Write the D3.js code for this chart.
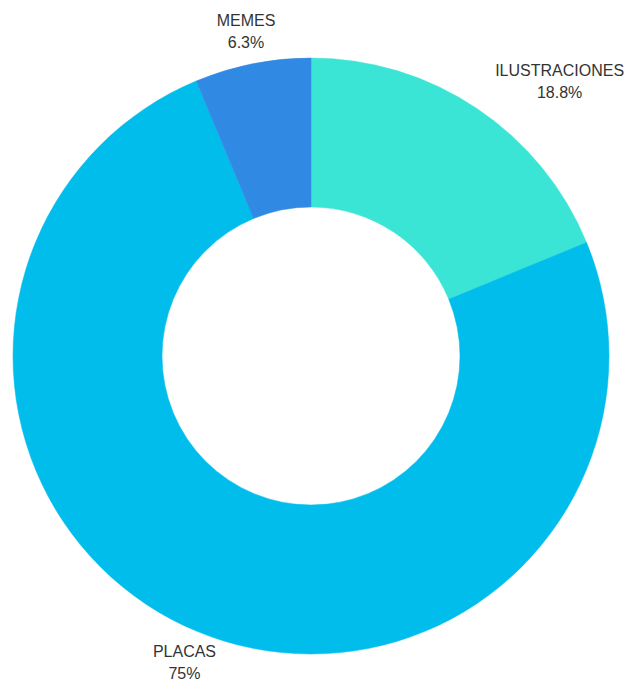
<!DOCTYPE html>
<html>
<head>
<meta charset="utf-8">
<script src="https://cdn.jsdelivr.net/npm/d3@7"></script>
<style>
  body { margin: 0; background: #fff; }
  svg { display: block; }
</style>
</head>
<body>
<div id="chart"></div>
<script>
const categories = ["ILUSTRACIONES", "PLACAS", "MEMES"]
const values = [18.8, 75, 6.3]
const valueLabels = ["18.8%", "75%", "6.3%"]
const colors = ["#3ae5d5", "#00bdec", "#308ae3"]

const width = 626, height = 681
const cx = 311, cy = 356
const outerR = 298, innerR = 149, labelR = 331

const svg = d3.select("#chart").append("svg")
  .attr("width", width)
  .attr("height", height)

const g = svg.append("g").attr("transform", `translate(${cx},${cy})`)

const data = categories.map((c, i) => ({ name: c, value: values[i], label: valueLabels[i], color: colors[i] }))

const pie = d3.pie().value(d => d.value).sort(null)
const arc = d3.arc().innerRadius(innerR).outerRadius(outerR)
const arcs = pie(data)

g.selectAll("path")
  .data(arcs)
  .join("path")
  .attr("d", arc)
  .style("fill", d => d.data.color)
  .style("stroke", d => d.data.color)
  .style("stroke-width", 0.5)

// labels outside the ring
const labels = g.append("g")
  .selectAll("g")
  .data(arcs)
  .join("g")

labels.each(function (d) {
  const a = (d.startAngle + d.endAngle) / 2
  const x = labelR * Math.sin(a)
  const y = -labelR * Math.cos(a)
  const t = d3.select(this).append("text")
    .style("font-family", "'Liberation Sans', Arial, sans-serif")
    .style("font-size", "16px")
    .style("fill", "#333")
    .attr("text-anchor", "middle")
  t.append("tspan").attr("x", 0).attr("dy", 0).text(d.data.name)
  t.append("tspan").attr("x", 0).attr("dy", 22).text(d.data.label)
  const w = t.node().getBBox().width
  let shift = 0
  if (Math.sin(a) > 0.5) shift = w / 2
  else if (Math.sin(a) < -0.5) shift = -w / 2
  d3.select(this).attr("transform", `translate(${x + shift},${y - 5})`)
})
</script>
</body>
</html>
